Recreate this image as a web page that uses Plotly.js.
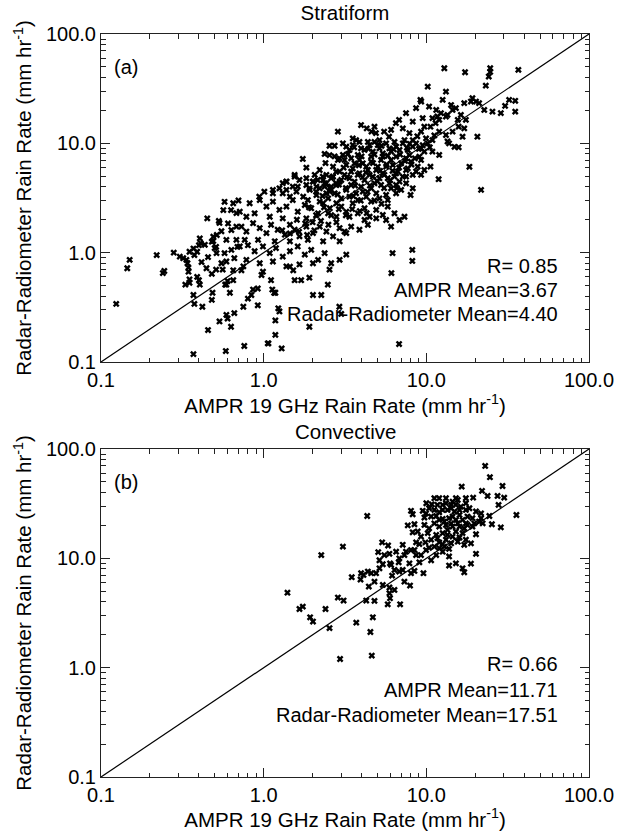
<!DOCTYPE html>
<html><head><meta charset="utf-8">
<script src="https://cdn.plot.ly/plotly-3.0.1.min.js"></script>
<style>html,body{margin:0;padding:0;background:#fff;}#chart{width:629px;height:831px;}</style>
</head><body><div id="chart"></div>
<script>
// ---------- axis ticks ----------
const majorTicks = [0.1, 1, 10, 100];
const majorLabels = ['0.1', '1.0', '10.0', '100.0'];
const minorTicks = [0.2,0.3,0.4,0.5,0.6,0.7,0.8,0.9,2,3,4,5,6,7,8,9,20,30,40,50,60,70,80,90];
const oneToOne = [0.1, 100];

// ---------- (a) Stratiform: AMPR (x) vs Radar-Radiometer (y) ----------
const stratX_a = [0.124,0.145,0.15,0.22,0.24,0.245,0.28,0.305,0.32,0.34,0.345,0.345,0.35,0.35,0.33,0.37,0.375,0.37,0.39,0.40,0.41,0.39,0.40,0.405,0.42,0.45,0.455,0.48,0.49,0.50,0.48,0.485,0.51,0.515,0.51,0.56,0.53,0.535,0.535,0.575,0.58,0.59,0.60,0.59,0.60,0.585,0.62,0.63,0.65,0.66,0.68,0.68,0.69,0.70];
const stratY_a = [0.34,0.72,0.86,0.95,0.65,0.68,1.0,0.92,0.89,0.80,0.73,0.67,0.57,0.53,0.51,0.41,0.34,0.118,1.02,1.17,1.22,0.60,0.56,0.51,0.32,2.06,0.196,1.26,1.28,1.1,0.37,0.43,1.13,1.45,0.70,0.70,1.95,1.87,0.235,2.92,0.51,0.51,0.55,0.27,0.25,0.126,0.43,0.21,0.56,0.28,2.3,1.31,1.13,3.0];
const stratX_b = [0.604,0.633,0.59,0.55,0.63,0.65,0.565,0.49,0.435,0.405,0.37,0.35,0.375,0.335,0.415,0.455,0.513,0.575,0.633,0.66,0.59,0.55,0.65,0.445,0.48,0.68];
const stratY_b = [1.85,1.61,1.31,1.57,2.45,2.83,2.45,1.4,1.18,1.35,1.09,1.02,0.95,0.86,0.82,0.91,0.99,0.99,1.06,0.89,0.83,0.80,0.69,0.72,0.64,1.73];
const stratX_c = [0.73,0.75,0.76,0.80,0.84,0.86,0.92,0.92,0.97,0.99,1.06,1.07,1.11,1.13,1.16,1.18,1.23,1.25,1.18,1.18,1.29,1.45,1.52,1.55,1.70,1.91,1.91,2.01,2.26,2.48,2.54,2.92,3.0,6.8];
const stratY_c = [0.69,0.32,0.14,0.38,0.41,0.46,0.47,0.33,0.625,0.67,0.148,0.148,0.56,0.46,0.43,0.43,0.31,0.29,0.24,0.177,0.133,0.745,0.69,0.56,0.56,0.59,0.21,0.41,0.41,0.51,0.70,0.32,0.275,0.146];
const stratX_d = [12.9,17.3,24.7,24.7,24.2,23.2,36.8,10.2,13.2,9.2,19.2,20.2,21.1,18.8,17.1,22.7,25.5,28.7,30.5,32.3,35.2,35.2,6.8,7.5,8.65,9.3,10.4,11.5,12.6,14.2,15.2,12.3,13.5,10.9,9.5,8.25,16.3,17.5,14.5,12,11.7,13.2,15.6,20.6,18.4,21.7];
const stratY_d = [48.6,44.7,48.6,45,40.8,33.7,47,33,29.7,25,25.9,24.1,23.3,24.1,23.3,20.2,19.5,18.9,22,25,24.5,19.5,16.4,18.9,21,24.1,21.7,20.2,25,22.4,21,18.9,18.2,17,17,15.8,18.2,16.4,20.2,16.4,17.6,17.6,16.4,11.5,6.1,3.75];
const stratX_e = [15.8,17.1,14.5,13.2,16.7,13.8,14.9,15.8,13.5,11.9,8.0,6.2,8.2,8.2,6.1,2.86,2.4,2.54,2.73,2.92,4.3,4.6,4.9,5.5,5.9,6.5];
const stratY_e = [14.2,13.7,12.8,11.9,11.5,10,9.3,9.2,10.4,4.7,3.37,0.99,1.06,0.84,0.65,12.8,6.6,7.8,7.6,7.3,13.7,12.8,12.4,12.8,11.5,15.3];
const stratX_f = [3.97,4.8,5.15,6.07,7.17,7.87,9.28,9.72,8.25,9.96,10.9,12.0,10.6,11.4];
const stratY_f = [14.7,14.2,10.7,13.3,13.7,12.4,12.8,14.2,10.7,11.1,10.7,12.8,14.2,15.3];
const stratX_g = [3.22,3.53,3.88,4.17,4.48,4.8,5.15,5.66,6.07,6.52,7.17,7.69,8.25,9.28,10.2,10.9,9.06,7.51,6.52,5.4,4.58,3.79,3.45,3.07,12.0];
const stratY_g = [9.33,9.65,10.3,8.7,9.65,10.3,9.0,10.0,8.4,9.33,10.0,8.7,9.33,9.0,10.0,8.4,7.56,7.3,7.56,7.56,7.56,7.83,7.3,7.83,7.83];
const stratX_h = [2.21,2.43,2.67,2.93,3.22,3.53,3.79,4.07,4.37,4.69,5.03,5.4,5.79,6.22,6.68,7.17,7.69,8.25,8.85,9.72,10.6,3.37,2.67];
const stratY_h = [5.7,5.15,6.12,5.52,6.34,5.9,5.15,6.57,5.7,4.96,6.12,5.32,4.8,6.34,5.52,4.96,5.9,5.15,6.12,5.7,6.12,4.8,4.96];
const stratX_i = [1.66,1.83,2.01,2.21,2.37,2.55,2.8,3.0,3.22,3.45,3.7,3.97,4.27,4.58,4.92,5.27,5.66,6.07,6.52,7.0,7.51,8.25,1.51,1.38,1.25,1.14,2.11,2.49];
const stratY_i = [4.62,4.16,4.46,3.88,4.31,3.62,4.16,4.62,3.75,4.16,3.49,4.02,3.25,3.88,3.49,4.16,3.37,3.88,4.16,3.75,4.31,3.88,4.02,4.46,3.88,3.75,3.37,3.14];
const stratX_j = [0.82,0.946,1.04,1.14,1.25,1.38,1.51,1.62,1.79,1.96,2.16,2.32,2.55,2.8,3.0,3.22,3.53,3.79,4.17,4.48,4.92,5.4,5.79,6.37,6.84,7.34,0.713,0.783,0.88,1.09,1.31,1.83];
const stratY_j = [2.83,3.03,2.64,2.93,2.46,2.64,3.03,2.37,2.73,2.55,2.29,2.83,2.55,2.13,2.64,2.37,2.83,2.29,2.55,2.13,2.46,2.21,2.64,2.29,1.99,2.13,2.37,2.13,2.29,2.13,2.06,2.06];
const stratX_k = [0.73,0.783,0.861,0.946,1.04,1.11,1.22,1.35,1.45,1.55,1.66,1.83,2.01,2.21,2.43,2.67,2.93,3.22,3.45,3.88,4.37,0.765,0.924,1.17,1.45,1.87,2.32,2.93,3.14];
const stratY_k = [1.73,1.56,1.86,1.68,1.51,1.8,1.62,1.46,1.8,1.62,1.41,1.73,1.51,1.73,1.56,1.41,1.68,1.51,1.73,1.62,1.8,1.31,1.31,1.27,1.27,1.31,1.27,1.27,1.56];
const stratX_l = [0.713,0.8,0.88,0.99,1.09,1.19,1.31,1.45,1.62,1.79,1.96,2.16,2.37,2.6,2.93,3.22,0.783,0.946,1.14,1.38,1.66,2.01,0.75];
const stratY_l = [1.14,1.17,1.03,1.14,0.99,1.1,0.92,1.03,1.14,0.96,1.06,0.86,0.99,0.8,0.86,0.96,0.86,0.8,0.83,0.75,0.78,0.8,0.75];
const stratX_m = [3.07,3.37,3.7,3.97,4.37,4.69,5.03,5.4,5.93,6.37,6.84,7.34,7.87,8.65,9.72,
                  3.14,3.62,3.88,4.27,4.58,4.92,5.27,5.66,6.07,6.52,7.0,7.51,8.05,8.65,9.28,
                  2.93,3.14,3.62,3.88,4.17,4.48,4.8,5.15,5.52,5.93,6.37,6.84,7.51,9.28,
                  2.73,3.0,3.37,3.79,4.07,4.58,5.15,5.79,6.52,
                  2.32,2.11,2.6,2.43,1.92,1.75,1.59,1.45,1.31,1.87,2.21,2.8,
                  2.49,3.37,4.17,4.92,5.66,6.07,
                  3.53,1.83,2.06,1.55];
const stratY_m = [10.0,8.7,10.7,9.0,10.3,8.4,9.65,8.1,9.0,10.3,8.7,10.7,7.8,10.0,8.4,
                  7.05,6.57,7.05,6.12,6.8,5.7,7.05,6.12,7.05,5.32,6.57,5.7,6.8,5.52,7.05,
                  4.46,5.15,4.46,5.32,4.62,5.15,4.31,4.8,5.15,4.31,4.96,4.46,4.96,5.15,
                  3.49,3.14,3.25,3.03,3.62,2.93,3.14,3.03,3.49,
                  4.62,4.02,4.02,3.49,3.75,3.25,3.62,3.25,3.49,3.03,2.93,2.83,
                  2.29,2.13,1.99,2.06,1.99,1.73,
                  11.1,6.0,5.15,5.15];
const stratX_n = [2.54,2.73,2.37,1.74,1.31,1.38,1.55,1.83,2.01,2.15,2.31,2.43,2.66,2.79,2.86,1.62,1.91,1.14,1.01,0.94,1.38,2.1,2.37,2.6,2.79];
const stratY_n = [9.5,9.5,8.0,7.2,4.32,4.47,4.96,4.8,4.47,4.62,4.96,4.32,4.96,5.5,7.05,4.02,3.88,3.49,3.61,3.25,3.75,3.61,4.02,3.75,4.32];
const stratX_o = [3.3,3.6,4.0,4.4,4.8,5.3,5.8,6.3,6.9,7.6,
                  3.1,3.45,3.85,4.25,4.7,5.2,5.7,6.2,6.8,7.4,8.1,
                  2.6,2.9,3.25,3.65,4.05,4.5,5.0,5.5,6.0,6.6,
                  2.3,2.55,2.85,3.2,3.55,3.95,4.35,4.8,5.3,
                  1.9,2.1,2.35,2.6,2.9,3.2,3.5,3.9,4.3,
                  1.6,1.8,2.0,2.25,2.5,2.8,
                  1.3,1.45,1.65,1.85,2.05,
                  8.5,9.0,7.9,8.8,9.5,10.5,11.2];
const stratY_o = [8.0,9.2,7.6,8.9,7.9,9.5,7.7,8.8,7.9,9.1,
                  6.0,5.5,6.3,5.4,6.6,5.6,6.4,5.6,6.0,6.9,6.4,
                  4.8,4.2,4.9,4.1,4.9,4.1,4.5,3.9,4.6,3.9,
                  3.3,3.9,3.4,3.9,3.3,3.0,3.6,3.0,2.8,
                  2.6,2.2,2.6,2.2,2.5,2.2,2.5,2.4,2.3,
                  2.0,1.85,1.9,1.95,1.8,1.9,
                  1.6,1.5,1.55,1.45,1.6,
                  7.3,8.9,9.9,11.6,9.6,9.2,11.8];

// ---------- (b) Convective ----------
const convX_a = [23.0,24.6,16.5,29.4,22.0,23.8,27.4,30.1,27.8,11.2,12.0,13.2,15.2,17.5,19.4,14.5,15.6,10.0,10.8,12.6,14.2,8.05,9.5,9.96,11.2,12.0,13.5,14.9,16.0,18.4,20.2,24.4,8.24,9.73,10.7,11.5,12.6,13.8,15.2,16.7,17.5,19.2,21.7,21.1,35.8];
const convY_a = [70.0,55.2,45.3,45.9,41.4,37.2,37.2,35.9,30.8,35.5,35.5,35.5,35.5,35.5,35.9,33.0,34.2,31.9,31.2,30.8,30.8,27.2,27.2,25.8,27.7,26.4,27.7,26.8,27.7,28.7,26.8,24.4,25.3,23.6,24.1,24.4,22.9,23.3,22.5,22.5,20.9,23.3,23.3,21.7,24.9];
const convX_b = [4.33,7.69,8.45,10.4,12.0,13.2,14.5,16.0,17.1,19.2,25.3,28.7,8.24,11.5,12.6,13.5,15.2,16.7,20.2,5.35,5.82,8.65,9.06,9.87,11.7,13.2,14.2,15.6,17.1,18.8,3.07,5.06,5.93,7.5,8.05,7.33,10.4,11.2,12.0,12.9,13.8,12.6,20.2,2.26,6.82,6.76,5.98,5.4,7.87,9.06,9.27,13.8,15.2,13.8,16.7];
const convY_b = [24.4,20.0,20.5,18.8,19.5,20.2,19.5,19.5,18.8,19.5,20.5,19.2,17.3,16.4,17.0,16.4,17.6,17.0,16.6,14.0,13.1,14.0,13.5,14.0,15.3,14.8,13.7,14.2,13.3,13.7,12.8,11.4,11.0,11.5,11.9,10.7,12.5,12.8,12.4,12.8,12.2,11.5,11.0,10.7,10.0,9.2,9.0,8.83,9.0,9.2,10.7,10.4,9.0,8.59,8.11];
const convX_c = [17.1,18.8,3.97,4.37,4.58,4.91,3.48,3.94,4.11,6.07,6.16,6.82,7.16,8.05,8.45,9.6,4.43,4.8,5.4,5.93,6.37,7.94,2.86,3.1,4.27,4.8,5.93,5.79,6.9,5.98,1.66,1.74,2.4,1.93,2.01,2.54,3.71,4.69,4.53,2.95,4.62,1.4];
const convY_c = [7.46,8.95,7.31,7.57,7.31,7.31,6.72,6.4,7.05,8.71,6.95,7.57,7.83,7.31,7.67,7.31,5.52,6.12,5.71,5.41,5.14,5.64,4.38,4.11,4.11,4.08,4.8,3.8,3.8,4.32,3.44,3.62,3.44,2.89,2.64,2.3,2.58,2.89,2.12,1.2,1.29,4.85];
const convX_d = [13.2,14.2,15.2,16.3,17.5,12.6,14.5,16.0,17.9,12.9,14.2,15.6,12.0,11.2,9.73,13.5,14.5,16.0,17.5,12.0,12.6,10.7,9.27,8.85,10.2,17.9,19.7,22.2,21.7,17.5,10.4,11.7,8.45,11.5,10.7,9.96,8.65,7.16,6.52,5.52,5.15,6.37,5.15,7.33];
const convY_d = [31.9,28.7,30.8,29.7,31.9,27.7,24.1,24.9,24.1,21.7,20.9,20.9,22.5,20.9,20.2,18.2,15.8,15.5,14.8,14.0,13.5,14.8,15.8,17.6,17.0,20.2,20.9,20.9,25.8,27.7,28.7,30.8,11.9,10.7,9.6,11.9,10.7,13.3,11.5,10.7,9.6,7.83,8.11,6.12];

// ---------- texts ----------
const panelTitles = ['Stratiform', 'Convective'];
const panelTags = ['(a)', '(b)'];
const statsA = ['R= 0.85', 'AMPR Mean=3.67', 'Radar-Radiometer Mean=4.40'];
const statsB = ['R= 0.66', 'AMPR Mean=11.71', 'Radar-Radiometer Mean=17.51'];
const xTitle = 'AMPR 19 GHz Rain Rate (mm hr<sup>-1</sup>)';
const yTitle = 'Radar-Radiometer Rain Rate (mm hr<sup>-1</sup>)';

const stratX = [].concat(stratX_a, stratX_b, stratX_c, stratX_d, stratX_e, stratX_f, stratX_g, stratX_h, stratX_i, stratX_j, stratX_k, stratX_l, stratX_m, stratX_n, stratX_o);
const stratY = [].concat(stratY_a, stratY_b, stratY_c, stratY_d, stratY_e, stratY_f, stratY_g, stratY_h, stratY_i, stratY_j, stratY_k, stratY_l, stratY_m, stratY_n, stratY_o);
const convX = [].concat(convX_a, convX_b, convX_c, convX_d);
const convY = [].concat(convY_a, convY_b, convY_c, convY_d);

const FONT = 'Liberation Sans, Arial, Helvetica, sans-serif';
const W = 629, H = 831;
const px = v => v / W;
const py = v => 1 - v / H;

const mk = {symbol: 'x', size: 6, color: '#000', line: {width: 0}};
const traces = [
  {x: stratX, y: stratY, xaxis: 'x', yaxis: 'y', mode: 'markers', type: 'scatter', marker: mk, hoverinfo: 'skip'},
  {x: oneToOne, y: oneToOne, xaxis: 'x', yaxis: 'y', mode: 'lines', type: 'scatter', line: {color: '#000', width: 1.2}, hoverinfo: 'skip'},
  {x: convX, y: convY, xaxis: 'x2', yaxis: 'y2', mode: 'markers', type: 'scatter', marker: mk, hoverinfo: 'skip'},
  {x: oneToOne, y: oneToOne, xaxis: 'x2', yaxis: 'y2', mode: 'lines', type: 'scatter', line: {color: '#000', width: 1.2}, hoverinfo: 'skip'}
];

function ax(domain, anchor, title, standoff) {
  return {
    type: 'log', range: [-1, 2], domain: domain, anchor: anchor,
    tickmode: 'array', tickvals: majorTicks, ticktext: majorLabels,
    ticks: 'inside', ticklen: 9, tickwidth: 1, tickcolor: '#222',
    showline: true, linecolor: '#222', linewidth: 1, mirror: 'ticks',
    showgrid: false, zeroline: false,
    minor: {tickmode: 'array', tickvals: minorTicks, ticks: 'inside', ticklen: 4.5, tickwidth: 1, tickcolor: '#222', showgrid: false},
    tickfont: {family: FONT, size: 20, color: '#000'},
    title: {text: title, standoff: standoff, font: {family: FONT, size: 20.5, color: '#000'}}
  };
}
const xDom = [px(101), px(589)];
const layout = {
  width: W, height: H, margin: {l: 0, r: 0, t: 0, b: 0},
  paper_bgcolor: '#fff', plot_bgcolor: '#fff', showlegend: false,
  font: {family: FONT, size: 20, color: '#000'},
  title: {text: panelTitles[0], x: px(345), xanchor: 'center', xref: 'container', y: py(13), yanchor: 'middle', yref: 'container', font: {family: FONT, size: 20.5, color: '#000'}},
  xaxis: ax(xDom, 'y', xTitle, 2),
  yaxis: ax([py(362), py(34)], 'x', yTitle, 8),
  xaxis2: ax(xDom, 'y2', xTitle, 2),
  yaxis2: ax([py(777), py(449)], 'x2', yTitle, 8),
  annotations: []
};
const A = layout.annotations;
function txt(text, x, y, xanchor, size) {
  A.push({text: text, x: px(x), y: py(y), xref: 'paper', yref: 'paper', xanchor: xanchor, yanchor: 'middle', showarrow: false, font: {family: FONT, size: size, color: '#000'}});
}
txt(panelTitles[1], 345, 432, 'center', 20.5);
txt(panelTags[0], 112, 67, 'left', 20);
txt(panelTags[1], 112, 482, 'left', 20);
[266, 290, 314].forEach((yy, i) => txt(statsA[i], 560, yy, 'right', 20));
[664, 690, 715].forEach((yy, i) => txt(statsB[i], 560, yy, 'right', 20));

Plotly.newPlot('chart', traces, layout, {staticPlot: true, displayModeBar: false});
</script>
</body></html>
